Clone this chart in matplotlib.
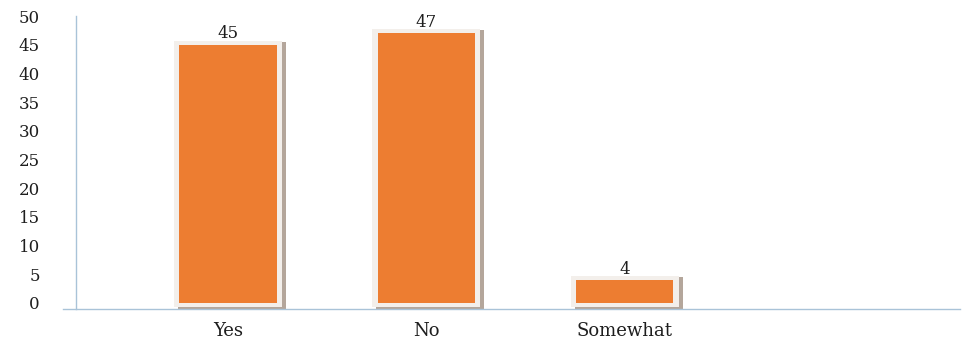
import matplotlib
matplotlib.use("Agg")
import matplotlib.pyplot as plt
from matplotlib.patches import Rectangle
from matplotlib.lines import Line2D

categories = ["Yes", "No", "Somewhat"]
values = [45, 47, 4]
yticks = [0, 5, 10, 15, 20, 25, 30, 35, 40, 45, 50]

plt.rcParams["font.family"] = ["DejaVu Serif"]

fig = plt.figure(figsize=(9.63, 3.41), dpi=100)
ax = fig.add_axes([0.0789, 0.0938, 0.918, 0.859])

orange = "#ED7D31"
frame = "#f3efeb"
shadow = "#b4a69b"
axis_col = "#a9c3d8"
text_col = "#1e1e1e"

y_floor = -1.05
bar_w = 0.49
pad_x = 0.027
pad_top = 0.7
for i, v in enumerate(values):
    left = i - bar_w / 2 - pad_x
    width = bar_w + 2 * pad_x
    # drop shadow on the right and bottom edges
    ax.add_patch(Rectangle((left + 0.02, y_floor), width, v + pad_top - y_floor - 0.2,
                           facecolor=shadow, edgecolor="none", zorder=1, clip_on=False))
    # light frame around the bar
    ax.add_patch(Rectangle((left, -0.7), width, v + pad_top + 0.7,
                           facecolor=frame, edgecolor="none", zorder=2, clip_on=False))
    ax.bar(i, v, width=bar_w, color=orange, zorder=3)
    ax.text(i, v + pad_top + 0.4, str(v), ha="center", va="baseline",
            fontsize=12, color=text_col, zorder=4)

ax.set_xlim(-0.766, 3.69)
ax.set_ylim(y_floor, 50)
ax.set_yticks(yticks)
ax.set_yticklabels([str(t) for t in yticks], fontsize=12, color=text_col)
ax.set_xticks(range(len(categories)))
ax.set_xticklabels(categories, fontsize=13, color=text_col)
ax.tick_params(axis="both", length=0)
ax.tick_params(axis="y", pad=26)
ax.tick_params(axis="x", pad=9)

for side in ["top", "right", "bottom"]:
    ax.spines[side].set_visible(False)
ax.spines["left"].set_color(axis_col)
ax.spines["left"].set_linewidth(1.0)

# baseline extends a little to the left of the value axis
ax.add_line(Line2D([-0.015, 1.0], [0, 0], transform=ax.transAxes, color=axis_col,
                   linewidth=1.0, clip_on=False, zorder=5))

fig.savefig("out.png", dpi=100, facecolor="white")
